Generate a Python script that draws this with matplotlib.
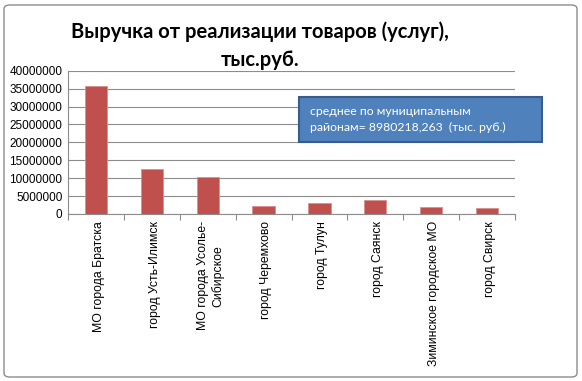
import matplotlib
matplotlib.use("Agg")
import matplotlib.pyplot as plt
from matplotlib.patches import FancyBboxPatch, Rectangle

categories = ["МО города Братска", "город Усть-Илимск", "МО города Усолье-\nСибирское",
              "город Черемхово", "город Тулун", "город Саянск",
              "Зиминское городское МО", "город Свирск"]
values = [35800000, 12600000, 10200000, 2300000, 3070000, 3800000, 1950000, 1770000]
yticks = [0, 5000000, 10000000, 15000000, 20000000, 25000000, 30000000, 35000000, 40000000]

plt.rcParams['font.family'] = ['Liberation Sans', 'DejaVu Sans']
W, H = 582, 381
fig = plt.figure(figsize=(W/100, H/100), dpi=100)
fig.patch.set_facecolor('white')

# outer border
fig.patches.append(FancyBboxPatch((4/W, 4/H), (W-9)/W, (H-9)/H,
                                  boxstyle="round,pad=0,rounding_size=0.01",
                                  transform=fig.transFigure, fill=False,
                                  edgecolor='#8c8c8c', linewidth=1.0))

left, right, top, bottom = 68, 515, 70.7, 214
ax = fig.add_axes([left/W, 1-bottom/H, (right-left)/W, (bottom-top)/H])
x = range(len(categories))
ax.bar(x, values, width=0.4, color='#C0504D', edgecolor='#D8908E', linewidth=0.6, zorder=3)
ax.set_xlim(-0.5, len(categories)-0.5)
ax.set_ylim(0, 40000000)
ax.set_yticks(yticks)
ax.set_yticklabels([str(v) for v in yticks], fontsize=8.5)
ax.yaxis.grid(True, color='#8c8c8c', linewidth=0.8, zorder=0)
ax.set_xticks([i - 0.5 for i in range(len(categories)+1)], minor=False)
ax.set_xticklabels([])
ax.tick_params(axis='x', length=4, color='#8c8c8c')
ax.tick_params(axis='y', length=0, pad=4)
for i, c in enumerate(categories):
    ax.text(i + 0.05, -0.05, c, transform=ax.get_xaxis_transform(), rotation=90,
            ha='center', va='top', fontsize=8.8, multialignment='center')
for s in ['top', 'right']:
    ax.spines[s].set_visible(False)
ax.spines['left'].set_color('#8c8c8c')
ax.spines['bottom'].set_color('#8c8c8c')

fig.text(260/W, 1-32/H, "Выручка от реализации товаров (услуг),", ha='center', va='center',
         fontsize=14.5, fontweight='bold', family=['Lato', 'DejaVu Sans'])
fig.text(260/W, 1-60/H, "тыс.руб.", ha='center', va='center', fontsize=14.5, fontweight='bold',
         family=['Lato', 'DejaVu Sans'])

# text box
bx0, by0, bx1, by1 = 299, 97, 542, 142
fig.patches.append(Rectangle((bx0/W, 1-by1/H), (bx1-bx0)/W, (by1-by0)/H,
                             transform=fig.transFigure, facecolor='#4F81BD',
                             edgecolor='#385D8A', linewidth=1.5, zorder=5))
fig.text(310/W, 1-119.5/H, "среднее по муниципальным\nрайонам= 8980218,263  (тыс. руб.)",
         ha='left', va='center', fontsize=8.8, color='white', linespacing=1.45, zorder=6,
         family=['Lato', 'DejaVu Sans'])

fig.savefig("out.png", dpi=100)
